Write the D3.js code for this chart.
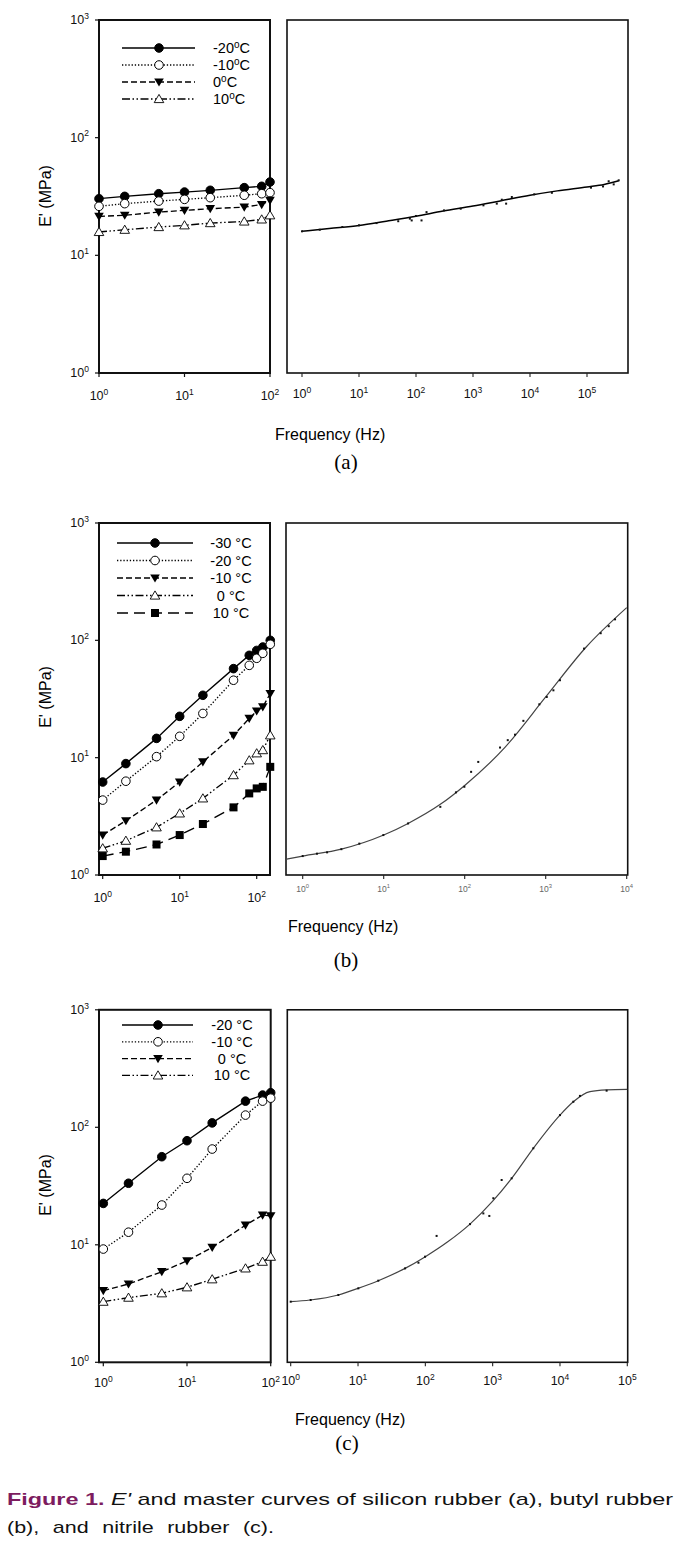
<!DOCTYPE html>
<html><head><meta charset="utf-8">
<script src="https://cdn.jsdelivr.net/npm/d3@7"></script>
<style>body{margin:0;background:#fff}svg{display:block}</style>
</head><body>
<svg id="c" width="685" height="1550"></svg>
<script>
// ---------------- DATA ----------------
const yTickVals = [1, 10, 100, 1000];

// (a) silicon rubber
const tempsA = ["-20", "-10", "0", "10"];
const freqA = [1, 2, 5, 10, 20, 50, 80, 100];
const eA_m20 = [30.3, 31.7, 33.4, 34.5, 35.7, 37.6, 38.6, 42.0];
const eA_m10 = [26.1, 27.5, 28.9, 29.9, 30.9, 32.4, 33.4, 34.1];
const eA_0   = [21.4, 21.9, 23.3, 24.1, 24.9, 25.7, 27.0, 29.3];
const eA_10  = [15.8, 16.5, 17.4, 18.0, 18.8, 19.4, 20.2, 21.9];
const masterA_f = [1, 3, 10, 30, 100, 300, 1000, 3000, 10000, 30000, 100000, 200000, 360000];
const masterA_E = [16.0, 16.9, 17.9, 19.5, 21.5, 23.8, 26.2, 29.0, 32.4, 35.3, 38.1, 40.0, 43.0];
const ptsA_f = [1, 2.05, 5.1, 10, 20.3, 48.8, 78, 84, 100, 125, 153, 310, 608, 1524, 2614, 3200, 3812, 4800, 11860, 24200, 117500, 191000, 240000, 294000, 360000];
const ptsA_E = [16.0, 16.5, 17.4, 18.0, 18.8, 19.5, 20.5, 19.8, 21.6, 19.8, 23.3, 24.1, 24.9, 26.6, 27.5, 29.7, 27.5, 31.3, 33.0, 34.0, 37.6, 38.5, 42.6, 40.1, 43.4];
const xTicksA_left = [1, 10, 100];
const xTicksA_right = [1, 10, 100, 1e3, 1e4, 1e5];

// (b) butyl rubber
const tempsB = ["-30", "-20", "-10", "0", "10"];
const freqB = [1, 2, 5, 10, 20, 50, 80, 100, 120, 150];
const eB_m30 = [6.2, 8.9, 14.6, 22.5, 34.0, 57.4, 74.5, 82.0, 87.7, 100.0];
const eB_m20 = [4.35, 6.3, 10.2, 15.2, 23.8, 45.7, 61.2, 70.3, 77.5, 92.5];
const eB_m10 = [2.19, 2.9, 4.35, 6.2, 9.2, 15.5, 21.6, 25.0, 27.1, 35.2];
const eB_0   = [1.69, 1.96, 2.55, 3.35, 4.5, 7.1, 9.5, 10.9, 11.6, 15.5];
const eB_10  = [1.45, 1.58, 1.82, 2.19, 2.72, 3.77, 4.96, 5.47, 5.64, 8.35];
const masterB_f = [0.62, 1, 3, 10, 20, 50, 100, 316, 1000, 3162, 10000];
const masterB_E = [1.36, 1.45, 1.66, 2.19, 2.75, 4.0, 5.8, 12.3, 32.9, 87.7, 190];
const ptsB_f = [1, 1.5, 2, 3, 5, 9.9, 20, 50, 78, 99, 120, 147, 273, 340, 418, 530, 835, 1030, 1245, 1500, 2975, 4775, 6000, 7180];
const ptsB_E = [1.45, 1.52, 1.56, 1.66, 1.85, 2.19, 2.75, 3.81, 5.06, 5.65, 7.57, 9.2, 12.2, 14.1, 15.7, 20.6, 28.5, 32.9, 37.5, 45.7, 85, 115, 132, 151];
const xTicksB_left = [1, 10, 100];
const xTicksB_right = [1, 10, 100, 1e3, 1e4];

// (c) nitrile rubber
const tempsC = ["-20", "-10", "0", "10"];
const freqC = [1, 2, 5, 10, 20, 50, 80, 100];
const eC_m20 = [22.5, 33.4, 56.2, 76.9, 109, 167, 188, 197];
const eC_m10 = [9.2, 12.8, 21.8, 36.8, 65.3, 127, 167, 177];
const eC_0   = [4.07, 4.64, 5.9, 7.3, 9.5, 14.7, 17.9, 17.6];
const eC_10  = [3.28, 3.55, 3.87, 4.35, 5.09, 6.3, 7.18, 7.92];
const masterC_f = [1, 1.94, 5.1, 10, 20, 50, 100, 215, 460, 1000, 1915, 4018, 10000, 15780, 27900, 49300, 100000];
const masterC_E = [3.28, 3.39, 3.74, 4.26, 4.95, 6.3, 7.92, 10.6, 15.0, 23.5, 36.8, 66.3, 127, 165, 201, 208, 210];
const ptsC_f = [1, 1.98, 5.1, 10.1, 20, 50, 79, 99, 147, 461, 727, 892, 1023, 1360, 1915, 4018, 10000, 15780, 19800, 49300];
const ptsC_E = [3.28, 3.39, 3.74, 4.26, 4.95, 6.3, 7.04, 7.92, 11.9, 15.0, 18.5, 17.6, 24.9, 35.6, 36.8, 66.3, 127, 165, 185, 205];
const xTicksC_left = [1, 10, 100];
const xTicksC_right = [1, 10, 100, 1e3, 1e4, 1e5];

// ---------------- DRAWING ----------------
const svg = d3.select('#c');
const FONT = '"Liberation Sans", Arial, Helvetica, sans-serif';
const DASH = {solid: null, dot: '1.3,1.9', dash: '6,3', dashdotdot: '8,2.5,1.5,2.5,1.5,2.5', longdash: '11,6'};

function powLabel(g, x, y, v, size, anchor, color) {
  const t = g.append('text').attr('x', x).attr('y', y).attr('text-anchor', anchor)
    .attr('font-family', FONT).attr('font-size', size).attr('fill', color || '#111');
  t.append('tspan').text('10');
  t.append('tspan').attr('dy', -size * 0.42).attr('font-size', size * 0.68).text(Math.round(Math.log10(v)));
}

function marker(g, type, cx, cy) {
  if (type === 'fc' || type === 'oc') {
    g.append('circle').attr('cx', cx).attr('cy', cy).attr('r', 4.3)
      .attr('fill', type === 'fc' ? '#000' : '#fff').attr('stroke', '#000').attr('stroke-width', 1);
  } else if (type === 'ftd') {
    g.append('path').attr('d', `M${cx-4.8},${cy-3.6}L${cx+4.8},${cy-3.6}L${cx},${cy+4.6}Z`).attr('fill', '#000');
  } else if (type === 'otu') {
    g.append('path').attr('d', `M${cx-4.8},${cy+3.6}L${cx+4.8},${cy+3.6}L${cx},${cy-4.6}Z`)
      .attr('fill', '#fff').attr('stroke', '#000').attr('stroke-width', 0.9);
  } else if (type === 'fs') {
    g.append('rect').attr('x', cx-4).attr('y', cy-4).attr('width', 8).attr('height', 8).attr('fill', '#000');
  }
}

function leftPanel(o) {
  const g = svg.append('g');
  const x = d3.scaleLog().domain([1, 100]).range(o.xr);
  const y = d3.scaleLog().domain([1, 1000]).range(o.yr);
  const top = o.yr[1], bot = o.yr[0];
  g.append('rect').attr('x', o.fx[0]).attr('y', top).attr('width', o.fx[1]-o.fx[0]).attr('height', bot-top)
    .attr('fill', 'none').attr('stroke', '#111').attr('stroke-width', 2);
  yTickVals.forEach(v => {
    g.append('line').attr('x1', o.fx[0]-4).attr('x2', o.fx[0]).attr('y1', y(v)).attr('y2', y(v)).attr('stroke', '#111').attr('stroke-width', 1.2);
    powLabel(g, o.fx[0]-10, y(v)+4, v, 12.5, 'end');
  });
  o.xTicks.forEach(v => {
    g.append('line').attr('x1', x(v)).attr('x2', x(v)).attr('y1', bot).attr('y2', bot+4).attr('stroke', '#111').attr('stroke-width', 1.2);
    powLabel(g, x(v), bot + o.xlab, v, 12.5, 'middle');
  });
  const line = d3.line();
  o.series.forEach(s => {
    const pts = o.freq.map((f, i) => [x(f), y(s.vals[i])]);
    g.append('path').attr('d', line(pts)).attr('fill', 'none').attr('stroke', '#000').attr('stroke-width', 1.35)
      .attr('stroke-dasharray', DASH[s.dash]);
    pts.forEach(p => marker(g, s.mk, p[0], p[1]));
  });
  // legend
  o.series.forEach((s, i) => {
    const ly = o.leg.y0 + i * o.leg.dy;
    g.append('line').attr('x1', o.leg.x1).attr('x2', o.leg.x2).attr('y1', ly).attr('y2', ly)
      .attr('stroke', '#000').attr('stroke-width', 1.3).attr('stroke-dasharray', DASH[s.dash]);
    marker(g, s.mk, o.leg.mx, ly);
    const t = g.append('text').attr('x', o.leg.tx).attr('y', ly + 5).attr('text-anchor', o.leg.anchor)
      .attr('font-family', FONT).attr('font-size', 14.5).attr('fill', '#000');
    if (o.leg.sup) {
      t.append('tspan').text(s.name);
      t.append('tspan').attr('dy', -5).attr('font-size', 10).text('o');
      t.append('tspan').attr('dy', 5).text('C');
    } else {
      t.text(s.name + ' \u00B0C');
    }
  });
}

function rightPanel(o) {
  const g = svg.append('g');
  const x = d3.scaleLog().domain(o.xd).range(o.xr);
  const y = d3.scaleLog().domain([1, 1000]).range(o.yr);
  const top = o.yr[1], bot = o.yr[0];
  const id = 'clip' + o.id;
  svg.append('clipPath').attr('id', id).append('rect').attr('x', o.fx[0]).attr('y', top).attr('width', o.fx[1]-o.fx[0]).attr('height', bot-top);
  g.append('rect').attr('x', o.fx[0]).attr('y', top).attr('width', o.fx[1]-o.fx[0]).attr('height', bot-top)
    .attr('fill', 'none').attr('stroke', '#111').attr('stroke-width', 1.6);
  o.xTicks.forEach(v => {
    g.append('line').attr('x1', x(v)).attr('x2', x(v)).attr('y1', bot).attr('y2', bot+4).attr('stroke', '#222').attr('stroke-width', 1.1);
    powLabel(g, x(v), bot + o.xlab, v, o.lsize, 'middle', o.lcolor);
  });
  const cg = g.append('g').attr('clip-path', `url(#${id})`);
  const line = d3.line().curve(d3.curveMonotoneX);
  cg.append('path').attr('d', line(o.mf.map((f, i) => [x(f), y(o.mE[i])])))
    .attr('fill', 'none').attr('stroke', o.ccolor).attr('stroke-width', o.cw);
  o.pf.forEach((f, i) => {
    cg.append('rect').attr('x', x(f)-1).attr('y', y(o.pE[i])-1).attr('width', 2).attr('height', 2).attr('fill', '#111');
  });
}

function labels(o) {
  svg.append('text').attr('transform', `translate(${o.ytx},${o.yty}) rotate(-90)`).attr('text-anchor', 'middle')
    .attr('font-family', FONT).attr('font-size', 16).attr('fill', '#000').text("E' (MPa)");
  svg.append('text').attr('x', o.fx).attr('y', o.fy).attr('font-family', FONT).attr('font-size', 16).attr('fill', '#000').text('Frequency (Hz)');
  svg.append('text').attr('x', o.cx).attr('y', o.cy).attr('text-anchor', 'middle')
    .attr('font-family', '"Liberation Serif", "Times New Roman", serif').attr('font-size', 21).attr('fill', '#000').text(o.cap);
}

// (a)
leftPanel({
  fx: [99, 270], xr: [99, 270], yr: [373, 20], xTicks: xTicksA_left, xlab: 27, freq: freqA,
  series: [
    {name: tempsA[0], vals: eA_m20, dash: 'solid', mk: 'fc'},
    {name: tempsA[1], vals: eA_m10, dash: 'dot', mk: 'oc'},
    {name: tempsA[2], vals: eA_0, dash: 'dash', mk: 'ftd'},
    {name: tempsA[3], vals: eA_10, dash: 'dashdotdot', mk: 'otu'}
  ],
  leg: {y0: 48, dy: 17, x1: 122, x2: 195, mx: 159, tx: 213, anchor: 'start', sup: true}
});
rightPanel({id: 'a', fx: [287, 628], xd: [1, 1e5], xr: [302, 587], yr: [373, 20], xTicks: xTicksA_right, xlab: 25,
  lsize: 12.5, lcolor: '#111', mf: masterA_f, mE: masterA_E, pf: ptsA_f, pE: ptsA_E, ccolor: '#000', cw: 1.5});
labels({ytx: 51, yty: 196, fx: 275, fy: 440, cx: 346, cy: 469, cap: '(a)'});

// (b)
leftPanel({
  fx: [99, 270], xr: [102.7, 256.7], yr: [875, 523], xTicks: xTicksB_left, xlab: 27, freq: freqB,
  series: [
    {name: tempsB[0], vals: eB_m30, dash: 'solid', mk: 'fc'},
    {name: tempsB[1], vals: eB_m20, dash: 'dot', mk: 'oc'},
    {name: tempsB[2], vals: eB_m10, dash: 'dash', mk: 'ftd'},
    {name: tempsB[3], vals: eB_0, dash: 'dashdotdot', mk: 'otu'},
    {name: tempsB[4], vals: eB_10, dash: 'longdash', mk: 'fs'}
  ],
  leg: {y0: 543, dy: 17.5, x1: 117, x2: 193, mx: 155, tx: 231, anchor: 'middle', sup: false}
});
rightPanel({id: 'b', fx: [286, 627.7], xd: [1, 1e4], xr: [302.7, 626.7], yr: [875, 523], xTicks: xTicksB_right, xlab: 17,
  lsize: 8.5, lcolor: '#666', mf: masterB_f, mE: masterB_E, pf: ptsB_f, pE: ptsB_E, ccolor: '#444', cw: 1.2});
labels({ytx: 51, yty: 697, fx: 288, fy: 932, cx: 346, cy: 967, cap: '(b)'});

// (c)
leftPanel({
  fx: [99, 270.7], xr: [103.3, 270.7], yr: [1362.3, 1009.8], xTicks: xTicksC_left, xlab: 25, freq: freqC,
  series: [
    {name: tempsC[0], vals: eC_m20, dash: 'solid', mk: 'fc'},
    {name: tempsC[1], vals: eC_m10, dash: 'dot', mk: 'oc'},
    {name: tempsC[2], vals: eC_0, dash: 'dash', mk: 'ftd'},
    {name: tempsC[3], vals: eC_10, dash: 'dashdotdot', mk: 'otu'}
  ],
  leg: {y0: 1025, dy: 16.8, x1: 122, x2: 193, mx: 158, tx: 232, anchor: 'middle', sup: false}
});
rightPanel({id: 'c', fx: [287.3, 627.7], xd: [1, 1e5], xr: [290.7, 627.3], yr: [1362.3, 1009.8], xTicks: xTicksC_right, xlab: 23,
  lsize: 12.5, lcolor: '#111', mf: masterC_f, mE: masterC_E, pf: ptsC_f, pE: ptsC_E, ccolor: '#444', cw: 1.2});
labels({ytx: 51, yty: 1185, fx: 295, fy: 1425, cx: 347, cy: 1450, cap: '(c)'});

// caption
const cap1 = svg.append('text').attr('x', 7).attr('y', 1505).attr('font-family', FONT).attr('font-size', 17)
  .attr('textLength', 666).attr('lengthAdjust', 'spacingAndGlyphs').attr('fill', '#111');
cap1.append('tspan').attr('font-weight', 'bold').attr('fill', '#7d1c5f').text('Figure 1. ');
cap1.append('tspan').attr('font-style', 'italic').text("E'");
cap1.append('tspan').text(' and master curves of silicon rubber (a), butyl rubber');
svg.append('text').attr('x', 7).attr('y', 1533).attr('font-family', FONT).attr('font-size', 17)
  .attr('textLength', 267).attr('lengthAdjust', 'spacingAndGlyphs').attr('fill', '#111')
  .attr('word-spacing', 6).text('(b), and nitrile rubber (c).');
</script>
</body></html>
